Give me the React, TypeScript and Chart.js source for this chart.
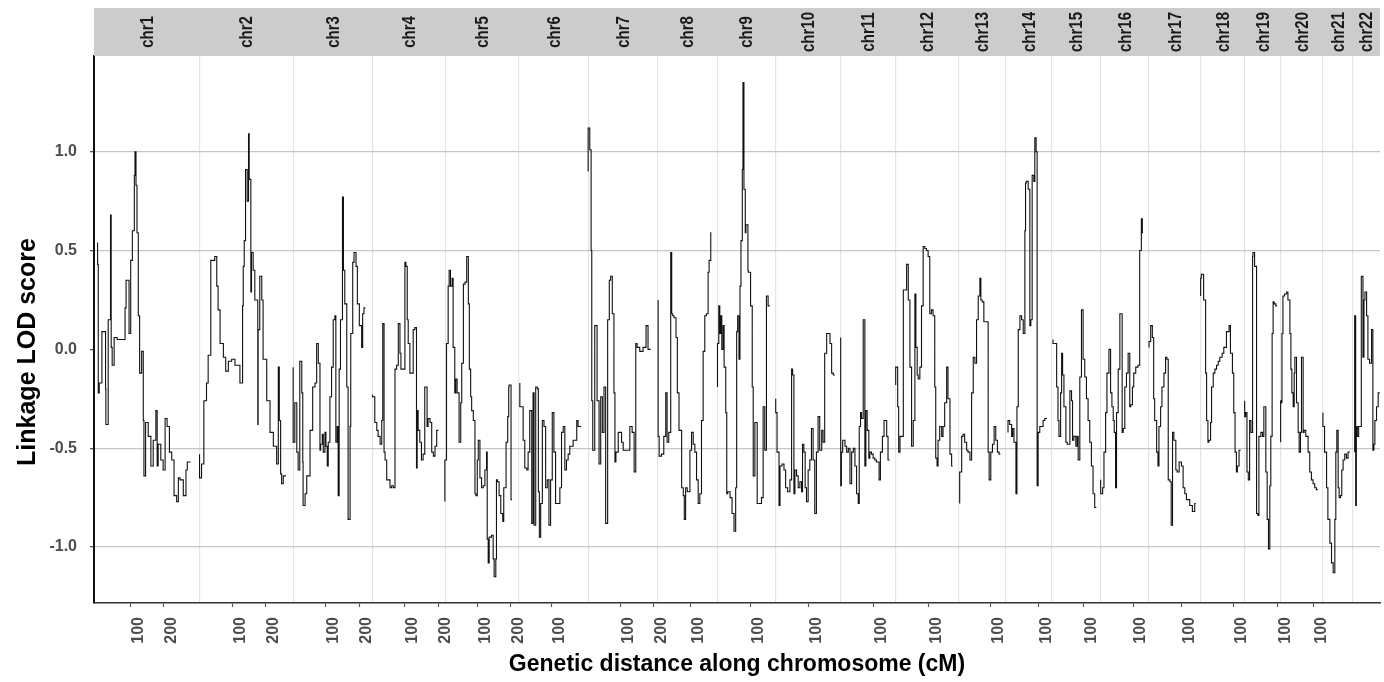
import React, { useEffect, useRef } from 'react';
import { Chart, registerables } from 'chart.js';

Chart.register(...registerables);

const FONT = '"Liberation Sans", Arial, Helvetica, sans-serif';

const chromosomes = ['chr1', 'chr2', 'chr3', 'chr4', 'chr5', 'chr6', 'chr7', 'chr8', 'chr9', 'chr10', 'chr11', 'chr12', 'chr13', 'chr14', 'chr15', 'chr16', 'chr17', 'chr18', 'chr19', 'chr20', 'chr21', 'chr22'];

// panel limits (cM) of each facet
const panelStart = [-10.9, -0.9, 1.8, 1.2, 2.7, 1.2, 1.2, 0.3, -0.9, 2.4, 1.5, 2.4, 1.2, 0.3, 2.4, 2.4, 2.1, -0.6, 1.2, 0.3, 0.5, 0];
const panelEnd = [307.2, 283.7, 239.9, 222.4, 224.8, 210.6, 210.9, 180.4, 176.4, 197.9, 168.6, 190.6, 145.3, 138.4, 151.4, 148.3, 157.4, 133.2, 110, 126.3, 93, 81.5];

// x tick labels per chromosome (cM)
const tickValues = [[100, 200], [100, 200], [100, 200], [100, 200], [100, 200], [100], [100, 200], [100], [100], [100], [100], [100], [100], [100], [100], [100], [100], [100], [100], [100], [], []];

const yTicks = [-1, -0.5, 0, 0.5, 1];

const chr1Pos = [0, 2, 5, 13, 24, 25, 32, 39, 41, 44, 50, 59, 65, 83, 86, 95, 100, 105, 111, 113, 116, 119, 123, 127, 133, 138, 140, 145, 153, 161, 168, 176, 180, 183, 191, 198, 204, 210, 217, 224, 231, 239, 244, 249, 259, 267, 271, 281];
const chr1Lod = [0.54, 0.43, -0.22, -0.17, 0.09, -0.2, -0.38, 0.15, 0.68, 0.01, -0.08, 0.06, 0.05, 0.05, 0.21, 0.35, 0.08, 0.45, 0.6, 0.88, 1.0, 0.83, 0.59, 0.17, -0.12, -0.01, -0.36, -0.64, -0.37, -0.44, -0.59, -0.46, -0.31, -0.59, -0.48, -0.56, -0.61, -0.35, -0.39, -0.52, -0.56, -0.74, -0.77, -0.65, -0.66, -0.74, -0.61, -0.57];

const chr2Pos = [0, 6, 13, 21, 26, 34, 46, 52, 56, 62, 72, 79, 87, 97, 107, 122, 130, 132, 135, 139, 144, 148, 150, 155, 157, 162, 167, 176, 177, 182, 188, 192, 203, 213, 223, 233, 238, 241, 245, 248, 253, 261];
const chr2Lod = [-0.53, -0.65, -0.58, -0.26, -0.17, -0.03, 0.45, 0.47, 0.32, 0.2, 0.03, -0.04, -0.11, -0.06, -0.05, -0.08, -0.17, 0.22, 0.42, 0.55, 0.91, 0.75, 1.09, 0.86, 0.29, 0.49, 0.4, 0.25, -0.38, 0.1, 0.37, 0.25, -0.05, -0.26, -0.42, -0.49, -0.58, -0.09, -0.36, -0.63, -0.68, -0.64];

const chr3Pos = [1, 6, 12, 16, 21, 27, 30, 31, 37, 42, 52, 60, 67, 72, 77, 82, 84, 89, 92, 97, 100, 104, 107, 112, 117, 122, 127, 130, 134, 137, 140, 144, 150, 153, 157, 163, 167, 173, 175, 181, 185, 191, 195, 201, 208, 211, 215, 219];
const chr3Lod = [-0.09, -0.47, -0.27, -0.52, -0.61, -0.06, -0.22, -0.57, -0.79, -0.73, -0.64, -0.41, -0.19, -0.17, 0.03, -0.07, -0.51, -0.48, -0.43, -0.52, -0.42, -0.49, -0.59, -0.47, -0.24, -0.09, 0.15, 0.17, -0.47, -0.39, -0.74, -0.1, 0.15, 0.77, 0.4, 0.23, -0.19, -0.86, -0.39, 0.08, 0.44, 0.49, 0.42, 0.23, 0.12, 0.01, 0.18, 0.21];

const chr4Pos = [2, 9, 15, 19, 25, 30, 33, 37, 40, 45, 55, 60, 65, 70, 75, 80, 85, 88, 93, 100, 103, 107, 110, 115, 120, 125, 130, 135, 137, 140, 145, 150, 155, 160, 163, 167, 170, 176, 181, 186, 191, 196, 201];
const chr4Lod = [-0.23, -0.24, -0.37, -0.41, -0.44, -0.48, -0.36, 0.13, -0.52, -0.56, -0.66, -0.7, -0.69, -0.7, -0.1, -0.08, 0.13, -0.02, -0.1, -0.1, 0.44, 0.42, 0.15, 0.03, -0.12, -0.12, 0.1, 0.11, -0.6, -0.31, -0.41, -0.47, -0.56, -0.53, -0.19, -0.19, -0.39, -0.35, -0.37, -0.52, -0.54, -0.49, -0.41];

const chr5Pos = [1, 6, 11, 14, 18, 23, 26, 31, 34, 38, 44, 49, 52, 57, 62, 67, 72, 75, 79, 82, 87, 92, 95, 99, 102, 107, 112, 117, 122, 127, 129, 132, 135, 142, 147, 150, 155, 157, 160, 165, 170, 176, 179, 186, 191, 194, 195, 201, 204];
const chr5Lod = [-0.77, -0.56, 0.03, 0.32, 0.4, 0.32, 0.36, 0.01, -0.22, -0.15, -0.22, -0.47, -0.27, -0.07, 0.33, 0.34, 0.47, 0.23, -0.1, -0.24, -0.31, -0.36, -0.73, -0.74, -0.56, -0.46, -0.65, -0.7, -0.69, -0.61, -0.52, -0.96, -1.08, -0.95, -0.94, -1.06, -1.15, -1.06, -0.66, -0.67, -0.74, -0.83, -0.87, -0.7, -0.47, -0.34, -0.19, -0.18, -0.76];

const chr6Pos = [4, 14, 19, 25, 29, 34, 40, 44, 47, 52, 57, 60, 63, 67, 72, 77, 82, 87, 92, 97, 102, 107, 112, 117, 125, 130, 135, 140, 145, 150, 155, 165, 176, 180, 189];
const chr6Lod = [-0.17, -0.29, -0.46, -0.6, -0.61, -0.52, -0.31, -0.88, -0.22, -0.89, -0.19, -0.2, -0.72, -0.95, -0.78, -0.36, -0.39, -0.7, -0.66, -0.89, -0.66, -0.32, -0.52, -0.78, -0.78, -0.7, -0.42, -0.39, -0.61, -0.56, -0.53, -0.49, -0.46, -0.36, -0.39];

const chr7Pos = [1, 6, 10, 12, 15, 21, 28, 34, 39, 44, 49, 54, 60, 65, 69, 74, 79, 82, 85, 92, 102, 107, 117, 127, 134, 140, 145, 149, 157, 167, 176, 182, 186, 190];
const chr7Lod = [0.9, 1.12, 1.01, 0.5, -0.26, -0.51, 0.12, -0.26, -0.58, -0.24, -0.42, -0.19, -0.88, 0.15, 0.35, 0.37, 0.18, -0.22, -0.57, -0.52, -0.42, -0.47, -0.51, -0.51, -0.39, -0.42, -0.62, 0.03, 0.01, -0.01, 0.01, 0.12, 0.0, 0.0];

const chr8Pos = [2, 5, 12, 19, 25, 29, 34, 40, 43, 46, 50, 56, 60, 65, 73, 78, 81, 85, 90, 98, 103, 108, 113, 118, 123, 128, 133, 138, 143, 148, 153, 156, 161, 163];
const chr8Lod = [0.25, -0.44, -0.54, -0.53, -0.44, -0.22, -0.47, -0.42, 0.49, 0.18, 0.17, 0.16, 0.06, -0.22, -0.41, -0.7, -0.74, -0.86, -0.7, -0.72, -0.51, -0.42, -0.48, -0.52, -0.66, -0.78, -0.73, -0.36, -0.01, 0.17, 0.18, 0.39, 0.45, 0.59];

const chr9Pos = [0, 4, 7, 10, 13, 17, 20, 25, 28, 31, 38, 44, 50, 55, 58, 61, 65, 68, 71, 75, 77, 80, 84, 86, 92, 93, 100, 105, 108, 113, 120, 126, 133, 138, 143, 148, 153, 158];
const chr9Lod = [-0.19, 0.03, 0.22, 0.08, 0.17, 0.0, 0.12, -0.09, -0.32, -0.73, -0.72, -0.75, -0.83, -0.92, -0.7, 0.09, 0.17, -0.05, 0.32, 0.55, 0.91, 1.35, 0.81, 0.59, 0.63, 0.4, 0.39, 0.22, -0.19, -0.64, -0.37, -0.78, -0.78, -0.75, -0.29, -0.51, 0.27, 0.22];

const chr10Pos = [2, 6, 12, 15, 21, 27, 32, 38, 45, 50, 53, 57, 60, 65, 70, 75, 80, 83, 87, 91, 95, 100, 105, 110, 115, 120, 125, 130, 135, 141, 145, 150, 156, 160, 166, 171, 176, 181];
const chr10Lod = [-0.25, -0.32, -0.52, -0.79, -0.59, -0.58, -0.61, -0.7, -0.72, -0.66, -0.1, -0.13, -0.73, -0.61, -0.64, -0.7, -0.67, -0.72, -0.48, -0.52, -0.7, -0.77, -0.61, -0.56, -0.4, -0.56, -0.83, -0.52, -0.34, -0.51, -0.41, -0.47, -0.02, 0.08, 0.08, 0.03, -0.12, -0.13];

const chr11Pos = [2, 4, 8, 15, 20, 25, 30, 35, 40, 45, 50, 55, 58, 62, 65, 70, 75, 78, 82, 87, 90, 95, 100, 105, 110, 118, 122, 128, 133, 141, 145, 150];
const chr11Lod = [0.06, -0.69, -0.52, -0.46, -0.49, -0.52, -0.5, -0.68, -0.52, -0.5, -0.59, -0.73, -0.78, -0.39, -0.32, -0.35, 0.15, -0.59, -0.31, -0.41, -0.55, -0.52, -0.53, -0.55, -0.56, -0.57, -0.66, -0.52, -0.44, -0.36, -0.44, -0.56];

const chr12Pos = [2, 8, 11, 15, 18, 25, 30, 35, 40, 45, 50, 55, 60, 63, 67, 70, 75, 80, 85, 90, 95, 100, 105, 110, 115, 120, 123, 127, 130, 135, 141, 145, 150, 156, 160, 166, 171, 174];
const chr12Lod = [-0.18, -0.09, -0.29, -0.52, -0.44, -0.44, 0.3, 0.3, 0.43, 0.25, -0.09, -0.49, -0.36, 0.28, 0.01, -0.13, -0.15, -0.09, 0.22, 0.52, 0.51, 0.5, 0.47, 0.18, 0.2, 0.17, -0.19, -0.55, -0.59, -0.46, -0.39, -0.44, -0.39, -0.27, -0.09, -0.25, -0.53, -0.59];

const chr13Pos = [6, 12, 16, 21, 27, 31, 37, 42, 47, 52, 57, 62, 67, 70, 74, 79, 85, 92, 95, 100, 105, 110, 115, 120, 125, 129];
const chr13Lod = [-0.78, -0.62, -0.44, -0.43, -0.47, -0.51, -0.52, -0.56, -0.22, -0.04, -0.07, 0.15, 0.27, 0.36, 0.25, 0.24, 0.14, 0.14, -0.52, -0.66, -0.52, -0.48, -0.39, -0.46, -0.52, -0.53];

const chr14Pos = [7, 12, 18, 21, 25, 31, 34, 38, 43, 48, 53, 58, 60, 62, 68, 73, 76, 80, 85, 88, 92, 95, 98, 103, 108, 113, 118, 125];
const chr14Lod = [-0.42, -0.36, -0.38, -0.44, -0.4, -0.47, -0.73, -0.29, 0.1, 0.17, 0.15, 0.08, 0.6, 0.84, 0.85, 0.81, 0.12, 0.15, 0.88, 0.85, 1.07, 1.0, -0.69, -0.42, -0.39, -0.39, -0.36, -0.35];

const chr15Pos = [7, 18, 22, 25, 30, 33, 36, 40, 46, 50, 58, 63, 66, 70, 76, 80, 83, 88, 93, 98, 103, 108, 113, 118, 123, 128, 133, 138];
const chr15Lod = [0.05, 0.03, -0.19, -0.36, -0.44, -0.22, -0.02, -0.13, -0.29, -0.47, -0.48, -0.21, -0.26, -0.46, -0.44, -0.49, -0.44, -0.56, -0.14, 0.2, -0.05, -0.14, -0.25, -0.36, -0.47, -0.59, -0.73, -0.8];

const chr16Pos = [2, 8, 12, 17, 21, 27, 32, 36, 40, 43, 47, 50, 55, 60, 67, 70, 75, 80, 85, 90, 93, 98, 102, 108, 115, 120, 125, 128, 130];
const chr16Lod = [-0.66, -0.73, -0.7, -0.52, -0.32, -0.12, 0.0, -0.22, -0.29, -0.36, -0.42, -0.7, -0.32, -0.1, 0.18, -0.42, -0.4, -0.19, -0.12, -0.02, -0.29, -0.28, -0.19, -0.12, -0.09, -0.08, 0.5, 0.66, 0.59];

const chr17Pos = [2, 7, 12, 16, 19, 25, 29, 32, 37, 41, 47, 52, 56, 60, 65, 69, 73, 77, 83, 87, 93, 100, 105, 110, 115, 125, 133, 140, 143];
const chr17Lod = [0.01, 0.04, 0.12, 0.06, -0.25, -0.36, -0.52, -0.59, -0.39, -0.29, -0.19, -0.12, -0.04, -0.05, -0.66, -0.67, -0.89, -0.42, -0.46, -0.61, -0.62, -0.57, -0.59, -0.7, -0.73, -0.76, -0.79, -0.82, -0.78];

const chr18Pos = [0, 2, 9, 15, 18, 22, 25, 30, 33, 38, 43, 48, 53, 58, 65, 70, 78, 86, 90, 96, 100, 104, 108, 111, 116, 121];
const chr18Lod = [0.27, 0.36, 0.38, 0.25, -0.12, -0.36, -0.47, -0.46, -0.37, -0.19, -0.12, -0.1, -0.08, -0.06, -0.04, -0.02, 0.01, 0.09, 0.12, -0.02, -0.12, -0.32, -0.52, -0.62, -0.59, -0.51];

const chr19Pos = [1, 4, 8, 12, 16, 20, 25, 26, 31, 37, 41, 44, 50, 55, 59, 65, 69, 73, 77, 80, 84, 87, 90, 95, 99];
const chr19Lod = [-0.26, -0.34, -0.32, -0.62, -0.66, -0.36, -0.42, 0.47, 0.49, 0.42, -0.83, -0.84, -0.44, -0.42, -0.44, -0.29, -0.62, -0.86, -1.01, -0.69, -0.44, 0.08, 0.24, 0.23, 0.22];

const chr20Pos = [0, 2, 4, 7, 12, 18, 22, 28, 31, 34, 38, 41, 43, 48, 53, 56, 60, 63, 68, 71, 76, 83, 88, 93, 98, 103, 108, 113];
const chr20Lod = [-0.47, -0.26, -0.27, 0.08, 0.27, 0.28, 0.29, 0.25, 0.08, -0.1, -0.22, -0.29, -0.12, -0.04, -0.27, -0.42, -0.52, -0.42, -0.04, -0.42, -0.41, -0.44, -0.52, -0.62, -0.66, -0.68, -0.7, -0.71];

const chr21Pos = [2, 7, 13, 17, 23, 28, 33, 38, 41, 44, 48, 51, 55, 59, 63, 68, 73, 78, 83];
const chr21Lod = [-0.32, -0.39, -0.52, -0.7, -0.86, -0.98, -1.08, -1.13, -0.86, -0.52, -0.41, -0.7, -0.75, -0.74, -0.61, -0.56, -0.53, -0.55, -0.52];

const chr22Pos = [5, 8, 10, 13, 17, 25, 30, 33, 36, 41, 45, 50, 56, 60, 63, 66, 71, 76, 81];
const chr22Lod = [-0.52, 0.17, -0.79, -0.39, -0.44, -0.39, 0.37, -0.04, 0.25, 0.29, 0.17, -0.05, -0.07, 0.1, -0.51, -0.48, -0.36, -0.29, -0.22];

const positions = [chr1Pos, chr2Pos, chr3Pos, chr4Pos, chr5Pos, chr6Pos, chr7Pos, chr8Pos, chr9Pos, chr10Pos, chr11Pos, chr12Pos, chr13Pos, chr14Pos, chr15Pos, chr16Pos, chr17Pos, chr18Pos, chr19Pos, chr20Pos, chr21Pos, chr22Pos];
const lods = [chr1Lod, chr2Lod, chr3Lod, chr4Lod, chr5Lod, chr6Lod, chr7Lod, chr8Lod, chr9Lod, chr10Lod, chr11Lod, chr12Lod, chr13Lod, chr14Lod, chr15Lod, chr16Lod, chr17Lod, chr18Lod, chr19Lod, chr20Lod, chr21Lod, chr22Lod];

// facet offsets on a shared linear axis
const offsets: number[] = [];
let acc = 0;
for (let i = 0; i < chromosomes.length; i++) {
  offsets.push(acc);
  acc += panelEnd[i] - panelStart[i];
}
const totalSpan = acc;
const toGlobal = (i: number, cM: number) => offsets[i] + cM - panelStart[i];

const xTickGlobal: number[] = [];
const xTickLabels: string[] = [];
tickValues.forEach((vals, i) => {
  vals.forEach((v) => {
    xTickGlobal.push(toGlobal(i, v));
    xTickLabels.push(String(v));
  });
});
const boundaries = offsets.slice(1);

const facetPlugin = {
  id: 'facetStrip',
  afterDraw(chart: any) {
    const { ctx, chartArea } = chart;
    const xs = chart.scales.x;
    ctx.save();
    const stripTop = chartArea.top - 48;
    ctx.fillStyle = '#cccccc';
    ctx.fillRect(chartArea.left, stripTop, chartArea.right - chartArea.left, 48);
    ctx.fillStyle = '#1a1a1a';
    ctx.font = `bold 15px ${FONT}`;
    ctx.textAlign = 'center';
    ctx.textBaseline = 'middle';
    chromosomes.forEach((name, i) => {
      const cx = xs.getPixelForValue(offsets[i] + (panelEnd[i] - panelStart[i]) / 2);
      ctx.save();
      ctx.translate(cx + 1, stripTop + 24);
      ctx.rotate(-Math.PI / 2);
      ctx.scale(1, 1.2);
      ctx.fillText(name, 0, 0);
      ctx.restore();
    });
    // y axis title
    ctx.fillStyle = '#000000';
    ctx.font = `bold 25px ${FONT}`;
    ctx.translate(28, 352);
    ctx.rotate(-Math.PI / 2);
    ctx.fillText('Linkage LOD score', 0, 0);
    ctx.restore();
  },
};

export default function App() {
  const canvasRef = useRef<HTMLCanvasElement | null>(null);

  useEffect(() => {
    const canvas = canvasRef.current;
    if (!canvas) return;
    const datasets = chromosomes.map((name, i) => ({
      label: name,
      data: positions[i].map((p, j) => ({ x: toGlobal(i, p), y: lods[i][j] })),
      borderColor: '#111111',
      borderWidth: 1.1,
      pointRadius: 0,
      stepped: 'after' as const,
      fill: false,
      xAxisID: 'x',
      yAxisID: 'y',
    }));

    const chart = new Chart(canvas, {
      type: 'line',
      data: { datasets },
      plugins: [facetPlugin],
      options: {
        responsive: false,
        animation: false,
        devicePixelRatio: 1,
        events: [],
        layout: { padding: { top: 56, right: 4, left: 0, bottom: 0 } },
        plugins: { legend: { display: false }, tooltip: { enabled: false }, title: { display: false } },
        scales: {
          x: {
            type: 'linear',
            position: 'bottom',
            min: 0,
            max: totalSpan,
            afterBuildTicks: (scale: any) => {
              scale.ticks = xTickGlobal.map((v) => ({ value: v }));
            },
            afterFit: (scale: any) => {
              scale.height = 79;
            },
            ticks: {
              autoSkip: false,
              maxRotation: 90,
              minRotation: 90,
              padding: 10,
              color: '#4d4d4d',
              font: { family: FONT, size: 16, weight: 'bold', lineHeight: '16px' },
              showLabelBackdrop: true,
              backdropColor: 'rgba(0,0,0,0)',
              backdropPadding: 0,
              callback: (_v: any, idx: number) => xTickLabels[idx],
            },
            grid: { drawOnChartArea: false, drawTicks: true, tickLength: 4, tickColor: '#555555', tickWidth: 1.2 },
            border: { display: true, color: '#333333', width: 1.5 },
            title: {
              display: true,
              text: 'Genetic distance along chromosome (cM)',
              color: '#000000',
              font: { family: FONT, size: 23, weight: 'bold' },
              padding: { top: 0, bottom: 4 },
            },
          },
          xb: {
            type: 'linear',
            position: 'bottom',
            min: 0,
            max: totalSpan,
            afterBuildTicks: (scale: any) => {
              scale.ticks = boundaries.map((v) => ({ value: v }));
            },
            afterFit: (scale: any) => {
              scale.height = 0;
            },
            ticks: { display: false },
            grid: { drawTicks: false, color: '#e4e4e4', lineWidth: 1.2 },
            border: { display: false },
          },
          y: {
            type: 'linear',
            min: -1.283,
            max: 1.484,
            afterBuildTicks: (scale: any) => {
              scale.ticks = yTicks.map((v) => ({ value: v }));
            },
            afterFit: (scale: any) => {
              scale.width = 94;
            },
            ticks: {
              padding: 13,
              color: '#4d4d4d',
              font: { family: FONT, size: 16, weight: 'bold' },
              callback: (v: any) => Number(v).toFixed(1),
            },
            grid: {
              color: (c: any) => (c.tick && c.tick.value === 0 ? 'rgba(0,0,0,0)' : '#c6c6c6'),
              lineWidth: 1.3,
              drawTicks: true,
              tickLength: 4,
              tickColor: '#555555',
            },
            border: { display: true, color: '#111111', width: 2 },
          },
        },
      },
    } as any);

    return () => {
      chart.destroy();
    };
  }, []);

  return (
    <div style={{ position: 'fixed', left: 0, top: 0, width: 1384, height: 682, background: '#ffffff' }}>
      <canvas ref={canvasRef} width={1384} height={682} style={{ width: '1384px', height: '682px', display: 'block' }} />
    </div>
  );
}
